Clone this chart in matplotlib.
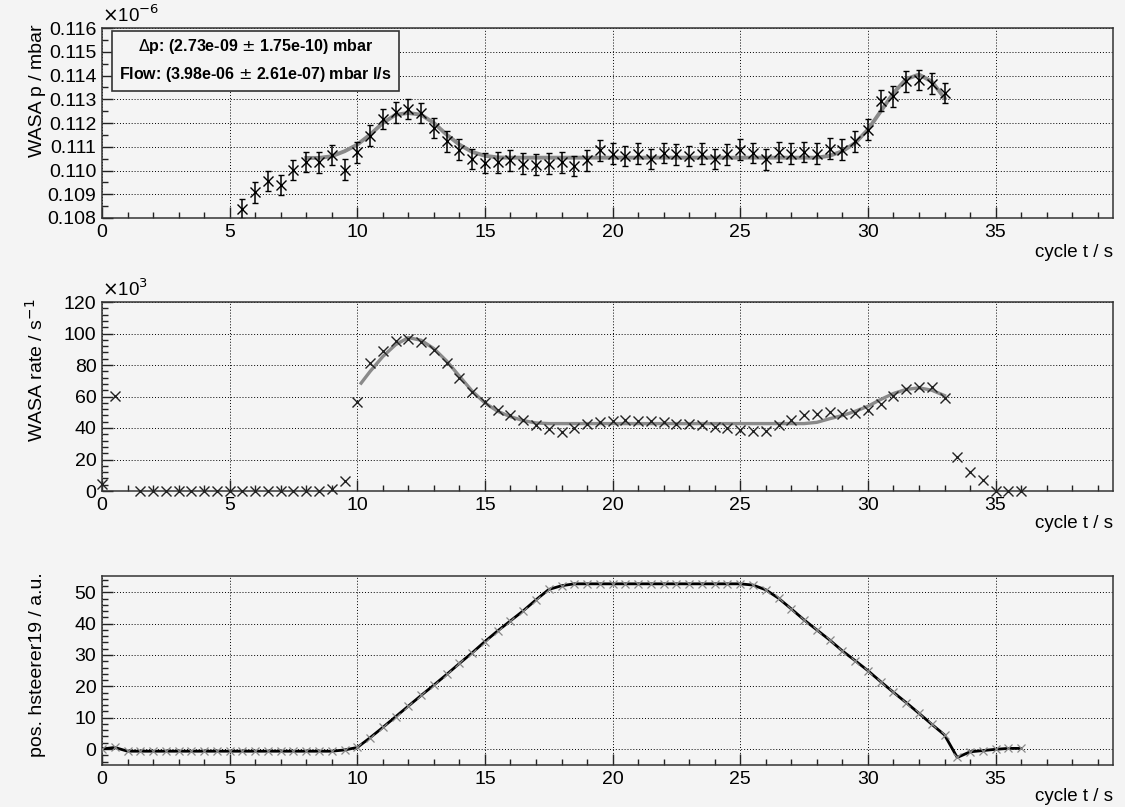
import numpy as np
import matplotlib
matplotlib.use("Agg")
import matplotlib.pyplot as plt
from matplotlib.ticker import MultipleLocator, FormatStrFormatter
from matplotlib.patches import Rectangle

plt.rcParams['font.family'] = ['Liberation Sans', 'DejaVu Sans']

# --- WASA pressure (x 1e-6 mbar), one point every 0.5 s from 5.5 s to 33 s
t_p = np.arange(5.5, 33.01, 0.5)
p_vals = [0.10838, 0.10908, 0.10957, 0.10939, 0.11001, 0.11037, 0.11034, 0.11065, 0.11004,
          0.11076, 0.11147, 0.11217, 0.11245, 0.11259, 0.11242, 0.11179, 0.11123, 0.11088, 0.11048,
          0.11032, 0.11034, 0.11043, 0.11029, 0.11025, 0.11029, 0.11034, 0.11018, 0.11043, 0.11085,
          0.11071, 0.11060, 0.11071, 0.11048, 0.11074, 0.11068, 0.11062, 0.11071, 0.11048, 0.11068,
          0.11088, 0.11074, 0.11047, 0.11078, 0.11071, 0.11078, 0.11071, 0.11092, 0.11088, 0.11123,
          0.11172, 0.11294, 0.11312, 0.11375, 0.11380, 0.11366, 0.11326]
p_err = 0.00043

# fit curve
t_pfit = np.arange(8.0, 33.01, 0.5)
p_fit = [0.11053, 0.11053, 0.11060, 0.11081, 0.11109, 0.11151, 0.11200, 0.11235, 0.11242,
         0.11235, 0.11200, 0.11151, 0.11109, 0.11078, 0.11062, 0.11055] + [0.11054] * 25 + \
        [0.11062, 0.11081, 0.11116, 0.11172, 0.11249, 0.11326, 0.11385, 0.11404, 0.11375, 0.11305]

# --- WASA rate (x 1e3 / s)
t_rate = np.concatenate([[0.0, 0.5], np.arange(1.5, 36.01, 0.5)])
rate = [4.2, 60.6] + [0.0] * 15 + \
       [1.3, 6.6, 56.8, 81.2, 89.0, 95.5, 96.8, 94.7, 89.4, 81.5, 71.9, 62.8, 56.4, 51.7, 48.3,
        44.9, 41.7, 39.4, 37.4, 40.2, 42.6, 43.6, 44.7, 44.9, 44.3, 44.3, 43.6, 42.8, 42.6, 41.7,
        40.6, 40.2, 38.9, 38.1, 38.1, 41.7, 45.3, 48.1, 49.1, 50.0, 49.1, 49.6, 51.7, 55.5, 60.6,
        64.9, 66.2, 66.2, 59.1, 21.9, 11.9, 7.0, 0.0, 0.0, 0.0]

t_rfit = np.concatenate([[10.15], np.arange(10.5, 33.01, 0.5)])
rate_fit = [68.5, 75.9, 85.4, 92.9, 97.4, 95.7, 90.4, 82.5, 72.9, 63.4, 55.9, 50.6, 47.2, 44.7,
            43.2] + [42.8] * 21 + [43.6, 45.9, 47.9, 50.6, 53.8, 58.1, 61.9, 64.5, 65.5, 64.0, 60.6]

# --- steerer position
t_pos = np.arange(0.0, 36.01, 0.5)
pos = [0.0, 0.5, -0.7] + [-0.7] * 16 + \
      [-0.3, 0.5, 3.6, 6.9, 10.3, 13.7, 17.1, 20.4, 23.8, 27.3, 30.7, 34.3, 37.7, 40.9, 44.1,
       47.6, 50.9, 52.1] + [52.7] * 14 + \
      [52.3, 50.8, 48.1, 44.7, 41.2, 38.0, 34.8, 31.3, 28.2, 25.0, 21.5, 18.1, 14.8, 11.4, 7.9,
       4.5, -2.7, -0.9, -0.5, -0.1, 0.2, 0.2]

bg = '#f4f4f4'
fig = plt.figure(figsize=(11.25, 8.07), dpi=100, facecolor=bg)

W, H = 1125, 807
def make_ax(top, bottom):
    return fig.add_axes([102 / W, 1 - bottom / H, 1011 / W, (bottom - top) / H], facecolor=bg)

ax1 = make_ax(28, 218)
ax2 = make_ax(302, 491)
ax3 = make_ax(576, 765)

for ax in (ax1, ax2, ax3):
    ax.set_xlim(0, 39.6)
    ax.xaxis.set_major_locator(MultipleLocator(5))
    ax.xaxis.set_minor_locator(MultipleLocator(1))
    ax.tick_params(which='both', direction='in', top=False, right=False, labelsize=14,
                   width=1, colors='#222222', labelcolor='black')
    ax.tick_params(which='major', length=8, pad=4)
    ax.tick_params(which='minor', length=4)
    ax.grid(True, which='major', linestyle=(0, (1, 2)), color='black', lw=0.7)
    for s in ax.spines.values():
        s.set_color('#333333')
        s.set_linewidth(1.1)
    ax.set_xlabel('cycle t / s', loc='right', fontsize=13.5)
    ax.set_axisbelow(True)

# panel 1
ax1.set_ylim(0.108, 0.116)
ax1.yaxis.set_major_locator(MultipleLocator(0.001))
ax1.yaxis.set_minor_locator(MultipleLocator(0.0005))
ax1.yaxis.set_major_formatter(FormatStrFormatter('%.3f'))
ax1.plot(t_pfit, p_fit, color='#8a8a8a', lw=2.8, zorder=3)
ax1.errorbar(t_p, p_vals, yerr=p_err, fmt='x', color='black', ms=7, mew=1.0,
             elinewidth=1.1, capsize=2.5, capthick=1.1, zorder=4)
ax1.set_ylabel('WASA p / mbar', loc='top', fontsize=14)
ax1.add_patch(Rectangle((0.0099, 0.668), 0.284, 0.316, transform=ax1.transAxes,
                        facecolor=bg, edgecolor='#333333', lw=1.2, zorder=6))
ax1.text(0.152, 0.905, r'$\Delta$p: (2.73e-09 $\pm$ 1.75e-10) mbar', transform=ax1.transAxes,
         ha='center', va='center', fontsize=11.5, fontweight='bold', zorder=7)
ax1.text(0.152, 0.753, r'Flow: (3.98e-06 $\pm$ 2.61e-07) mbar l/s', transform=ax1.transAxes,
         ha='center', va='center', fontsize=11.5, fontweight='bold', zorder=7)
ax1.text(0.0, 1.01, r'$\times$10$^{-6}$', transform=ax1.transAxes, ha='left', va='bottom',
         fontsize=13.5)

# panel 2
ax2.set_ylim(0, 120)
ax2.yaxis.set_major_locator(MultipleLocator(20))
ax2.yaxis.set_minor_locator(MultipleLocator(4))
ax2.plot(t_rfit, rate_fit, color='#8a8a8a', lw=2.4, zorder=3)
ax2.plot(t_rate, rate, 'x', color='#222222', ms=6.5, mew=1.0, zorder=4, clip_on=False)
ax2.set_ylabel(r'WASA rate / s$^{-1}$', loc='top', fontsize=14)
ax2.text(0.0, 1.01, r'$\times$10$^{3}$', transform=ax2.transAxes, ha='left', va='bottom',
         fontsize=13.5)

# panel 3
ax3.set_ylim(-5.1, 55.2)
ax3.yaxis.set_major_locator(MultipleLocator(10))
ax3.yaxis.set_minor_locator(MultipleLocator(2))
ax3.plot(t_pos, pos, '-', color='black', lw=2.0, zorder=3)
ax3.plot(t_pos, pos, 'x', color='#888888', ms=6, mew=0.9, zorder=4)
ax3.set_ylabel('pos. hsteerer19 / a.u.', loc='top', fontsize=14)

for ax, xl_off in ((ax1, 26), (ax2, 24), (ax3, 23)):
    h = ax.get_position().height * H
    ax.yaxis.set_label_coords(-0.055, 1.02)
    ax.xaxis.set_label_coords(1.0, -xl_off / h)

fig.savefig('out.png', dpi=100, facecolor=bg)
